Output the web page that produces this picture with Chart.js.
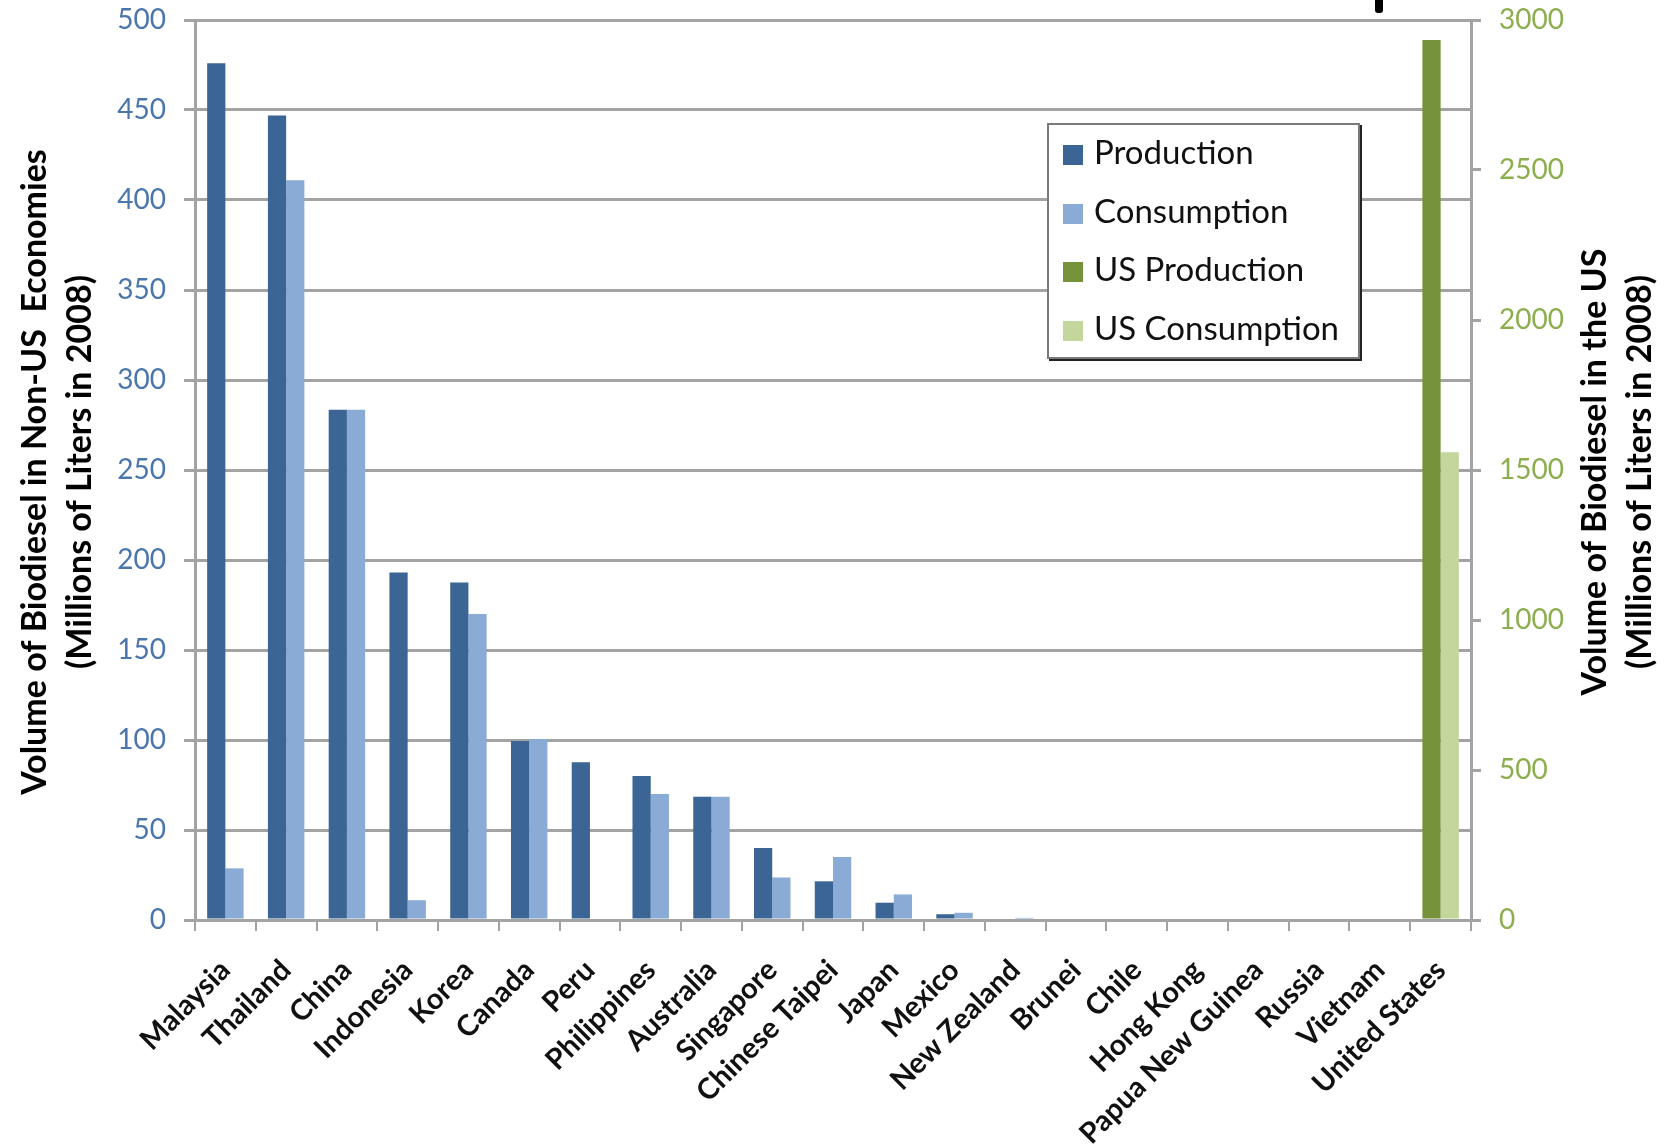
<!DOCTYPE html>
<html>
<head>
<meta charset="utf-8">
<script src="https://cdn.jsdelivr.net/npm/chart.js@4.4.1/dist/chart.umd.min.js"></script>
<style>
  body { margin: 0; background: #fff; }
  #wrap { position: relative; width: 1664px; height: 1145px; }
  #legend { position: absolute; left: 1047px; top: 123px; width: 309px; height: 232px;
    border: 2px solid #7a7a7a; box-shadow: 2px 2px 0 #222; background: #fff;
    font-family: Lato, sans-serif; font-size: 33px; color: #111; }
  .item { position: absolute; left: 14px; height: 36px; line-height: 36px; white-space: nowrap; }
  .sw { display: inline-block; width: 20px; height: 20px; vertical-align: -1px; margin-right: 11px; }
  #mark { position: absolute; left: 1375px; top: 0; width: 8px; height: 13px; background: #000; border-radius: 0 0 3px 3px; }
</style>
</head>
<body>
<div id="wrap">
  <canvas id="chart" width="1664" height="1145"></canvas>
  <div id="legend"></div>
  <div id="mark"></div>
</div>
<script>
const categories = ['Malaysia', 'Thailand', 'China', 'Indonesia', 'Korea', 'Canada', 'Peru', 'Philippines',
  'Australia', 'Singapore', 'Chinese Taipei', 'Japan', 'Mexico', 'New Zealand', 'Brunei', 'Chile',
  'Hong Kong', 'Papua New Guinea', 'Russia', 'Vietnam', 'United States'];

// non-US economies, left axis (millions of liters)
const production  = [476, 447, 283.5, 193, 187.5, 99.5, 87.7, 80, 68.5, 40, 21.5, 9.6, 3.2, 0, 0, 0, 0, 0, 0, 0, null];
const consumption = [28.7, 411, 283.5, 11, 170, 100.5, 0, 70, 68.5, 23.6, 35, 14.2, 4, 1.2, 0, 0, 0, 0, 0, 0, null];

// US, right axis
const usProduction  = [null, null, null, null, null, null, null, null, null, null, null, null, null, null, null, null, null, null, null, null, 2933];
const usConsumption = [null, null, null, null, null, null, null, null, null, null, null, null, null, null, null, null, null, null, null, null, 1559];

const leftTicks = [0, 50, 100, 150, 200, 250, 300, 350, 400, 450, 500];
const rightTicks = [0, 500, 1000, 1500, 2000, 2500, 3000];

const leftTitle = ['Volume of Biodiesel in Non-US  Economies', '(Millions of Liters in 2008)'];
const rightTitle = ['Volume of Biodiesel in the US', '(Millions of Liters in 2008)'];

const gridGray = '#a3a3a3';

const axisTitles = {
  id: 'axisTitles',
  afterDraw(chart) {
    const ctx = chart.ctx;
    const midY = (chart.chartArea.top + chart.chartArea.bottom) / 2 + 2;
    const lines = [[35, leftTitle[0]], [80, leftTitle[1]], [1595, rightTitle[0]], [1640, rightTitle[1]]];
    ctx.save();
    ctx.font = 'bold 34px Lato';
    ctx.fillStyle = '#000';
    ctx.textAlign = 'center';
    ctx.textBaseline = 'middle';
    lines.forEach(([x, t]) => {
      ctx.save();
      ctx.translate(x, midY);
      ctx.rotate(-Math.PI / 2);
      ctx.fillText(t, 0, 0);
      ctx.restore();
    });
    ctx.restore();
  }
};

const barOpts = { categoryPercentage: 0.6, barPercentage: 1.0, skipNull: true, borderWidth: 0 };

const data = {
  labels: categories,
  datasets: [
    { label: 'Production', data: production, backgroundColor: '#3b6595', yAxisID: 'y', ...barOpts },
    { label: 'Consumption', data: consumption, backgroundColor: '#8aabd5', yAxisID: 'y', ...barOpts },
    { label: 'US Production', data: usProduction, backgroundColor: '#76923b', yAxisID: 'y1', ...barOpts },
    { label: 'US Consumption', data: usConsumption, backgroundColor: '#c3d69b', yAxisID: 'y1', ...barOpts }
  ]
};

const noPad = s => { s.paddingTop = 0; s.paddingBottom = 0; };

const config = {
  type: 'bar',
  data: data,
  options: {
    responsive: false,
    animation: false,
    layout: { padding: { top: 20, left: 0, right: 0, bottom: 0 } },
    plugins: { legend: { display: false }, tooltip: { enabled: false } },
    scales: {
      x: {
        grid: { offset: true, drawOnChartArea: false, tickLength: 11, color: gridGray, lineWidth: 2 },
        border: { color: gridGray, width: 3 },
        ticks: {
          autoSkip: false, maxRotation: 45, minRotation: 45, padding: 22,
          color: '#111', font: { family: 'Lato', size: 29, weight: 'bold' }
        },
        afterFit: s => { s.height = 225; }
      },
      y: {
        position: 'left', min: 0, max: 500,
        afterBuildTicks: s => { s.ticks = leftTicks.map(v => ({ value: v })); },
        grid: { color: gridGray, lineWidth: 3, tickLength: 11 },
        border: { color: gridGray, width: 3 },
        ticks: { color: '#4a76ab', padding: 18, font: { family: 'Lato', size: 28 }, callback: v => String(v) },
        afterFit: s => { s.width = 195; noPad(s); }
      },
      y1: {
        position: 'right', min: 0, max: 3000,
        afterBuildTicks: s => { s.ticks = rightTicks.map(v => ({ value: v })); },
        grid: { drawOnChartArea: false, color: gridGray, lineWidth: 3, tickLength: 10 },
        border: { color: gridGray, width: 3 },
        ticks: { color: '#8dae4f', padding: 18, font: { family: 'Lato', size: 28 }, callback: v => String(v) },
        afterFit: s => { s.width = 193; noPad(s); }
      }
    }
  },
  plugins: [axisTitles]
};

const chart = new Chart(document.getElementById('chart'), config);

// legend box drawn inside the plot, built from the datasets
const legend = document.getElementById('legend');
chart.data.datasets.forEach((ds, i) => {
  const item = document.createElement('div');
  item.className = 'item';
  item.style.top = (8 + i * 58.5) + 'px';
  item.innerHTML = '<span class="sw" style="background:' + ds.backgroundColor + '"></span>' + ds.label;
  legend.appendChild(item);
});
</script>
</body>
</html>
